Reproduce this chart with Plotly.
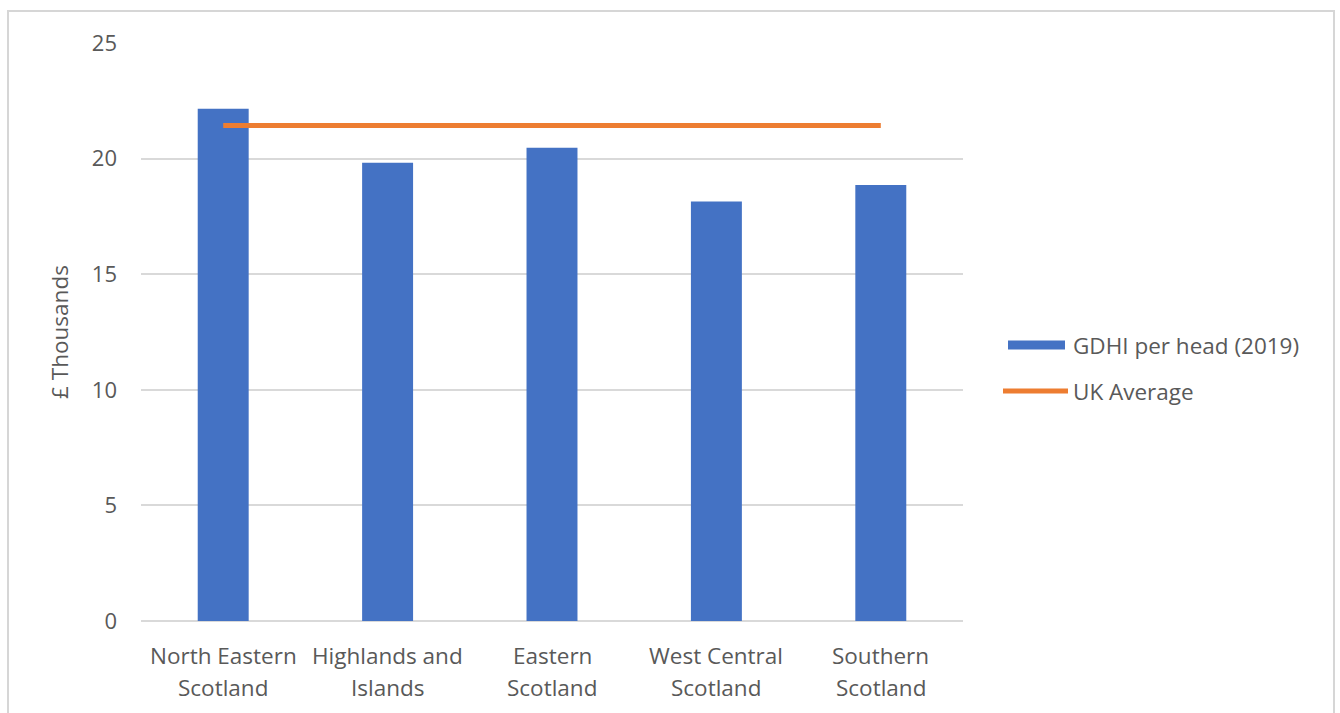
import plotly.graph_objects as go

# GDHI per head by Scottish region, 2019 (£ thousands)
regions = ["North Eastern Scotland", "Highlands and Islands", "Eastern Scotland",
           "West Central Scotland", "Southern Scotland"]
region_label_lines = [("North Eastern", "Scotland"), ("Highlands and", "Islands"),
                      ("Eastern", "Scotland"), ("West Central", "Scotland"),
                      ("Southern", "Scotland")]
gdhi_per_head = [22.16, 19.82, 20.47, 18.14, 18.86]
uk_average = [21.43, 21.43, 21.43, 21.43, 21.43]
y_ticks = [0, 5, 10, 15, 20, 25]
series_names = ["GDHI per head (2019)", "UK Average"]

BLUE = "#4472C4"
ORANGE = "#ED7D31"
GREY_TEXT = "#595959"
GRID = "#d9d9d9"
FONT = "Open Sans"
TEXT_SIZE = 22.5

W, H = 1340, 713
M_L, M_R, M_T, M_B = 141, 377, 43, 92
PW, PH = W - M_L - M_R, H - M_T - M_B


def px_x(px):
    return (px - M_L) / PW


def px_y(py):
    return (H - M_B - py) / PH


fig = go.Figure()
fig.add_trace(go.Bar(x=regions, y=gdhi_per_head, name=series_names[0],
                     marker=dict(color=BLUE, line=dict(width=0)), width=0.31,
                     showlegend=False))
fig.add_trace(go.Scatter(x=regions, y=uk_average, name=series_names[1], mode="lines",
                         line=dict(color=ORANGE, width=5), showlegend=False))

shapes = []
annotations = []

# category labels, two lines each, centred under the bars
for region, (line1, line2) in zip(regions, region_label_lines):
    for text, py in ((line1, 655), (line2, 687)):
        annotations.append(dict(text=text, xref="x", yref="paper", x=region, y=px_y(py),
                                xanchor="center", yanchor="middle", showarrow=False,
                                font=dict(family=FONT, size=TEXT_SIZE, color=GREY_TEXT)))

# legend drawn as swatches + labels to the right of the plot
legend_items = [
    dict(kind="bar", y=345, x0=1008, x1=1065),
    dict(kind="line", y=391, x0=1003, x1=1068),
]
for name, item in zip(series_names, legend_items):
    if item["kind"] == "bar":
        shapes.append(dict(type="rect", xref="paper", yref="paper",
                           x0=px_x(item["x0"]), x1=px_x(item["x1"]),
                           y0=px_y(item["y"] - 4.5), y1=px_y(item["y"] + 4.5),
                           fillcolor=BLUE, line=dict(width=0)))
    else:
        shapes.append(dict(type="line", xref="paper", yref="paper",
                           x0=px_x(item["x0"]), x1=px_x(item["x1"]),
                           y0=px_y(item["y"]), y1=px_y(item["y"]),
                           line=dict(color=ORANGE, width=5)))
    annotations.append(dict(text=name, xref="paper", yref="paper",
                            x=px_x(1071), y=px_y(item["y"]),
                            xanchor="left", yanchor="middle", showarrow=False,
                            font=dict(family=FONT, size=TEXT_SIZE, color=GREY_TEXT)))

# chart frame
shapes.append(dict(type="path", xref="paper", yref="paper",
                   path=f"M {px_x(8)} {px_y(720)} L {px_x(8)} {px_y(11)} "
                        f"L {px_x(1334)} {px_y(11)} L {px_x(1334)} {px_y(720)}",
                   line=dict(color="#d6d6d6", width=2)))

fig.update_layout(
    width=W, height=H,
    margin=dict(l=M_L, r=M_R, t=M_T, b=M_B),
    paper_bgcolor="white", plot_bgcolor="white",
    font=dict(family=FONT, color=GREY_TEXT),
    showlegend=False,
    shapes=shapes,
    annotations=annotations,
    xaxis=dict(range=[-0.5, 4.5], showgrid=False, showline=False, zeroline=False,
               ticks="", showticklabels=False),
    yaxis=dict(range=[0, 25], tickvals=y_ticks, showgrid=True, gridcolor=GRID,
               gridwidth=1.5, zeroline=True, zerolinecolor=GRID, zerolinewidth=1.5,
               showline=False, ticks="", tickfont=dict(family=FONT, size=22, color=GREY_TEXT),
               ticklabelstandoff=23,
               title=dict(text="£ Thousands",
                          font=dict(family=FONT, size=TEXT_SIZE, color=GREY_TEXT),
                          standoff=16)),
)

fig.write_html("out.html")
